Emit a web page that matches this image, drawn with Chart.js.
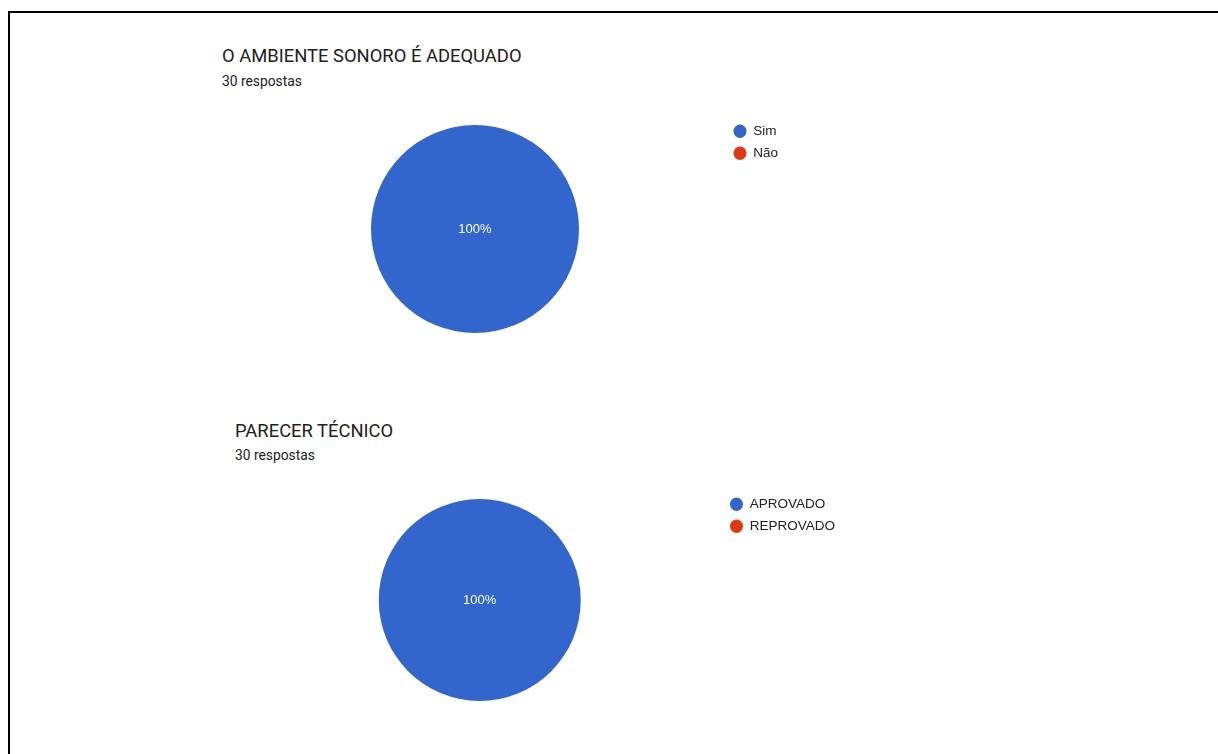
<!DOCTYPE html>
<html>
<head>
<meta charset="utf-8">
<script src="https://cdn.jsdelivr.net/npm/chart.js@4.4.1/dist/chart.umd.min.js"></script>
<style>
  html, body { margin: 0; padding: 0; background: #fff; }
  body { width: 1218px; height: 754px; position: relative; overflow: hidden; }
  .frame { position: absolute; left: 8px; top: 11px; right: -10px; bottom: -10px;
           border-top: 2px solid #000; border-left: 2px solid #000; }
  .title { position: absolute; font-family: Roboto, sans-serif; font-size: 18.4px; color: #212121;
           line-height: 22px; white-space: nowrap; }
  .sub { position: absolute; font-family: Roboto, sans-serif; font-size: 13.8px; color: #212121;
         line-height: 16px; white-space: nowrap; }
  .box { position: absolute; }
</style>
</head>
<body>
<div class="frame"></div>
<div class="title" id="t1" style="left:222px; top:45px;"></div>
<div class="sub" id="s1" style="left:222px; top:73px;"></div>
<div class="title" id="t2" style="left:235px; top:420px;"></div>
<div class="sub" id="s2" style="left:235px; top:447px;"></div>
<div class="box" id="b1" style="left:225px; top:116px; width:563px; height:226px;"><canvas id="c1"></canvas></div>
<div class="box" id="b2" style="left:238px; top:489px; width:607px; height:222px;"><canvas id="c2"></canvas></div>
<script>
const title1 = "O AMBIENTE SONORO É ADEQUADO";
const title2 = "PARECER TÉCNICO";
const responses1 = "30 respostas";
const responses2 = "30 respostas";
const labels1 = ["Sim", "Não"];
const values1 = [30, 0];
const labels2 = ["APROVADO", "REPROVADO"];
const values2 = [30, 0];
const colors = ["#3366cc", "#dc3912"];

document.getElementById('t1').textContent = title1;
document.getElementById('s1').textContent = responses1;
document.getElementById('t2').textContent = title2;
document.getElementById('s2').textContent = responses2;

const pctLabels = {
  id: 'pctLabels',
  afterDatasetsDraw(chart) {
    const ctx = chart.ctx;
    const meta = chart.getDatasetMeta(0);
    const data = chart.data.datasets[0].data;
    const total = data.reduce((a, b) => a + b, 0);
    ctx.save();
    ctx.fillStyle = '#ffffff';
    ctx.font = '13px "Liberation Sans", Arial, sans-serif';
    ctx.textAlign = 'center';
    ctx.textBaseline = 'middle';
    meta.data.forEach((arc, i) => {
      const v = data[i];
      if (!v) return;
      const frac = v / total;
      let x, y;
      if (frac >= 0.999) { x = arc.x; y = arc.y; }
      else { const p = arc.tooltipPosition(); x = p.x; y = p.y; }
      ctx.fillText(Math.round(frac * 100) + '%', x, y);
    });
    ctx.restore();
  }
};

function makePie(id, labels, values, radius) {
  return new Chart(document.getElementById(id), {
    type: 'pie',
    data: {
      labels: labels,
      datasets: [{ data: values, backgroundColor: colors, borderWidth: 0, radius: radius }]
    },
    options: {
      responsive: true,
      maintainAspectRatio: false,
      animation: false,
      layout: { padding: 0 },
      plugins: {
        tooltip: { enabled: false },
        legend: {
          position: 'right',
          align: 'start',
          labels: {
            usePointStyle: true,
            pointStyle: 'circle',
            pointStyleWidth: 13,
            boxHeight: 9.5,
            padding: 8.5,
            color: '#222222',
            font: { family: '"Liberation Sans", Arial, sans-serif', size: 13.5 }
          }
        }
      }
    },
    plugins: [pctLabels]
  });
}

makePie('c1', labels1, values1, 104);
makePie('c2', labels2, values2, 101);
</script>
</body>
</html>
